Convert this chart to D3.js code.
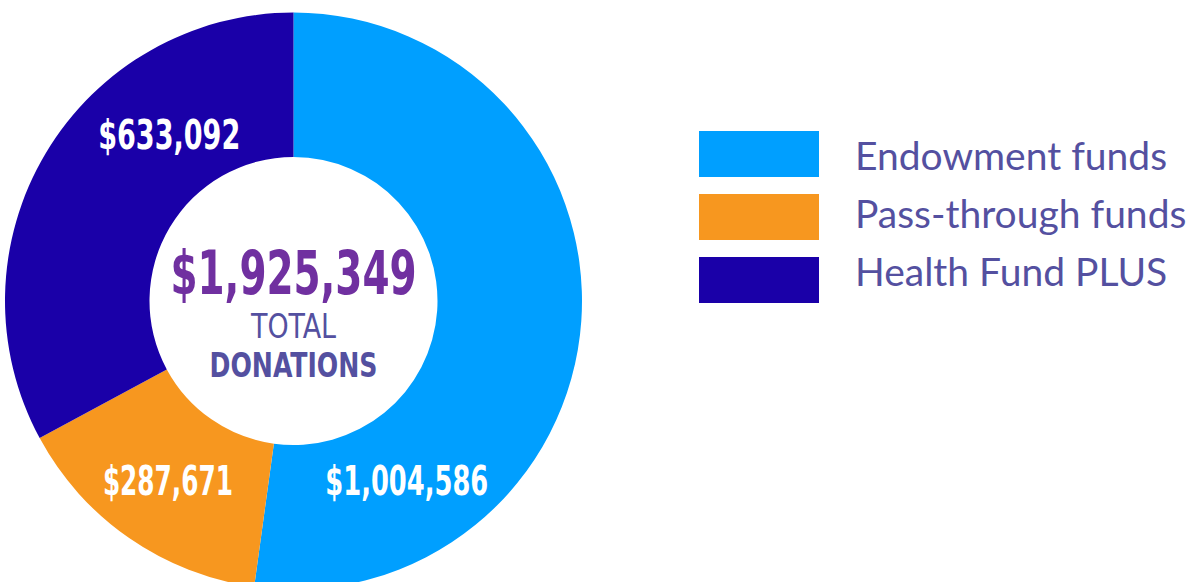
<!DOCTYPE html>
<html>
<head>
<meta charset="utf-8">
<script src="https://cdn.jsdelivr.net/npm/d3@7"></script>
<style>
  html, body { margin: 0; padding: 0; background: #fff; overflow: hidden; }
  .num { font-family: "Liberation Sans Narrow", "DejaVu Sans Condensed", "Roboto", sans-serif; font-stretch: condensed; font-weight: bold; }
</style>
</head>
<body>
<div id="chart"></div>
<script>
const categories = ["Endowment funds", "Pass-through funds", "Health Fund PLUS"];
const amounts = [1004586, 287671, 633092];
const colors = ["#009fff", "#f7971f", "#1a00a8"];
const totalLabel = ["TOTAL", "DONATIONS"];

const width = 1192, height = 582;
const cx = 293.5, cy = 301;
const fmt = d3.format("$,");

const svg = d3.select("#chart").append("svg")
    .attr("width", width)
    .attr("height", height);

const pie = d3.pie().sort(null).value(d => d)(amounts);
const arc = d3.arc().innerRadius(144).outerRadius(288.5);

const g = svg.append("g").attr("transform", `translate(${cx},${cy})`);

g.selectAll("path")
  .data(pie)
  .join("path")
    .attr("d", arc)
    .attr("fill", (d, i) => colors[i]);

// label placement in polar form (degrees clockwise from top, radius, text width)
const labelPos = [[147.7, 212, 163], [215, 219, 130], [323.3, 208, 142]];
g.selectAll("text.lbl")
  .data(pie)
  .join("text")
    .attr("class", "lbl num")
    .attr("text-anchor", "middle")
    .attr("dy", "0.36em")
    .attr("font-size", 40)
    .attr("fill", "#fff")
    .attr("x", (d, i) => labelPos[i][1] * Math.sin(labelPos[i][0] * Math.PI / 180))
    .attr("y", (d, i) => -labelPos[i][1] * Math.cos(labelPos[i][0] * Math.PI / 180))
    .attr("textLength", (d, i) => labelPos[i][2])
    .attr("lengthAdjust", "spacingAndGlyphs")
    .text(d => fmt(d.value));

// centre total
g.append("text")
    .attr("class", "num")
    .attr("text-anchor", "middle")
    .attr("y", -7)
    .attr("font-size", 61)
    .attr("fill", "#7030a0")
    .attr("textLength", 246)
    .attr("lengthAdjust", "spacingAndGlyphs")
    .text(fmt(d3.sum(amounts)));

g.append("text")
    .attr("class", "num")
    .style("font-weight", "normal")
    .attr("text-anchor", "middle")
    .attr("y", 37)
    .attr("font-size", 33)
    .attr("fill", "#5450a0")
    .attr("textLength", 85)
    .attr("lengthAdjust", "spacingAndGlyphs")
    .text(totalLabel[0]);

g.append("text")
    .attr("class", "num")
    .attr("text-anchor", "middle")
    .attr("y", 76)
    .attr("font-size", 34)
    .attr("fill", "#5450a0")
    .attr("textLength", 168)
    .attr("lengthAdjust", "spacingAndGlyphs")
    .text(totalLabel[1]);

// legend
const y = d3.scaleBand().domain(categories).range([131, 303]).paddingInner(17 / 63).paddingOuter(0);
const ty = d3.scalePoint().domain(categories).range([170, 286]);
const legend = svg.append("g");

legend.selectAll("rect")
  .data(categories)
  .join("rect")
    .attr("x", 699)
    .attr("y", d => y(d))
    .attr("width", 120)
    .attr("height", y.bandwidth())
    .attr("fill", (d, i) => colors[i]);

legend.selectAll("text")
  .data(categories)
  .join("text")
    .attr("x", 855)
    .attr("y", d => ty(d))
    .attr("font-family", "Lato, sans-serif")
    .attr("font-size", 39)
    .attr("fill", "#5450a0")
    .text(d => d);
</script>
</body>
</html>
